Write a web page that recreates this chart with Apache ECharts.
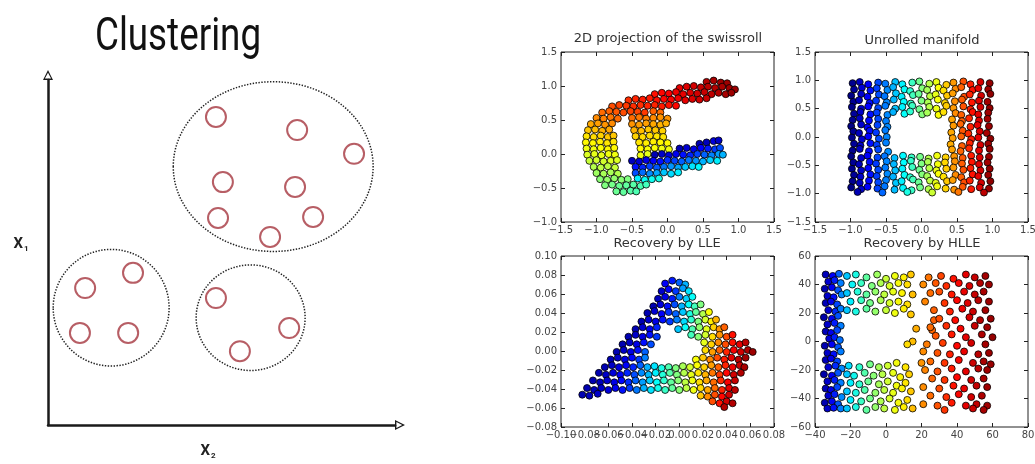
<!DOCTYPE html>
<html><head><meta charset="utf-8">
<script src="https://cdn.jsdelivr.net/npm/echarts@6.0.0/dist/echarts.min.js"></script>
<style>html,body{margin:0;padding:0;background:#fff}#c{width:1035px;height:464px}</style>
</head><body><div id="c"></div>
<script>
// ---------- Clustering diagram (arbitrary units 0..100) ----------
const clusterCircles = [[48.4,89.3],[71.8,85.5],[88.2,78.6],[50.4,70.4],[71.2,69.0],[49.0,60.0],[76.4,60.3],[64.0,54.5],
  [10.7,39.7],[24.5,44.1],[9.2,26.7],[23.1,26.7],[48.4,36.8],[69.5,28.1],[55.3,21.4]];
const clusterGroups = [[64.9,74.9,28.8,24.6],[18.2,34.0,16.7,16.9],[58.4,31.1,15.7,15.3]]; // cx, cy, rx, ry
const panelTitles = ['2D projection of the swissroll','Unrolled manifold','Recovery by LLE','Recovery by HLLE'];

// axis ranges [min, max, interval]
const swissXRange = [-1.5,1.5,0.5], swissYRange = [-1.0,1.5,0.5];
const unrolledXRange = [-1.5,1.5,0.5], unrolledYRange = [-1.5,1.5,0.5];
const lleXRange = [-0.10,0.08,0.02], lleYRange = [-0.08,0.10,0.02];
const hlleXRange = [-40,80,20], hlleYRange = [-60,60,20];

// ---------- 2D projection of the swissroll: [x, y, colour position 0..1] ----------
const swissrollPoints = [
[0.55,1.06,0.95],[0.65,1.08,0.96],[0.75,1.05,0.97],[0.84,1.04,0.97],
[0.17,0.97,0.9],[0.27,0.99,0.91],[0.37,1.0,0.92],[0.47,0.98,0.93],[0.57,0.99,0.94],[0.67,0.97,0.95],[0.77,0.99,0.96],[0.87,0.97,0.97],[0.95,0.95,0.97],
[-0.18,0.88,0.86],[-0.08,0.9,0.87],[0.02,0.89,0.88],[0.12,0.91,0.89],[0.22,0.88,0.9],[0.32,0.9,0.91],[0.42,0.89,0.92],[0.52,0.91,0.93],[0.62,0.88,0.94],[0.72,0.9,0.95],[0.82,0.88,0.96],[0.9,0.9,0.97],
[-0.55,0.79,0.83],[-0.45,0.81,0.84],[-0.35,0.8,0.85],[-0.25,0.82,0.85],[-0.15,0.79,0.86],[-0.05,0.81,0.87],[0.05,0.8,0.88],[0.15,0.82,0.89],[0.25,0.79,0.9],[0.35,0.81,0.91],[0.45,0.8,0.92],[0.55,0.82,0.93],
[-0.78,0.7,0.8],[-0.68,0.72,0.81],[-0.58,0.71,0.82],[-0.48,0.7,0.83],[-0.38,0.72,0.83],[-0.28,0.71,0.84],[-0.18,0.72,0.84],[-0.08,0.7,0.85],[0.02,0.72,0.86],[0.12,0.71,0.87],
[-0.92,0.61,0.77],[-0.82,0.63,0.78],[-0.72,0.62,0.79],[-0.62,0.61,0.8],[-0.52,0.63,0.81],[-0.42,0.62,0.81],[-0.32,0.61,0.82],[-0.2,0.63,0.78],[-0.1,0.61,0.77],
[-1.0,0.53,0.74],[-0.9,0.52,0.75],[-0.8,0.54,0.76],[-0.7,0.52,0.77],[-0.5,0.53,0.77],[-0.4,0.54,0.76],[-0.3,0.52,0.75],[-0.2,0.53,0.74],[-0.1,0.54,0.73],[0.0,0.52,0.73],
[-1.08,0.44,0.71],[-0.98,0.45,0.72],[-0.88,0.43,0.73],[-0.78,0.45,0.74],[-0.5,0.44,0.73],[-0.4,0.43,0.72],[-0.3,0.45,0.72],[-0.2,0.44,0.71],[-0.1,0.43,0.7],[-0.02,0.45,0.7],
[-1.12,0.35,0.68],[-1.02,0.36,0.69],[-0.92,0.34,0.7],[-0.82,0.36,0.71],[-0.47,0.35,0.7],[-0.37,0.34,0.69],[-0.27,0.36,0.68],[-0.17,0.35,0.68],[-0.07,0.34,0.67],
[-1.14,0.26,0.65],[-1.04,0.25,0.66],[-0.94,0.27,0.67],[-0.84,0.25,0.68],[-0.76,0.27,0.68],[-0.45,0.26,0.67],[-0.35,0.25,0.66],[-0.25,0.27,0.66],[-0.15,0.26,0.65],[-0.06,0.25,0.65],
[-1.15,0.17,0.63],[-1.05,0.16,0.63],[-0.95,0.18,0.64],[-0.85,0.16,0.65],[-0.76,0.18,0.65],[-0.4,0.17,0.65],[-0.3,0.16,0.64],[-0.2,0.18,0.64],[-0.1,0.17,0.63],[0.0,0.16,0.63],[0.55,0.17,0.06],[0.65,0.19,0.09],[0.45,0.15,0.05],[0.72,0.2,0.07],
[-1.14,0.08,0.61],[-1.04,0.07,0.61],[-0.94,0.09,0.62],[-0.84,0.07,0.63],[-0.75,0.09,0.63],[-0.38,0.08,0.63],[-0.28,0.07,0.62],[-0.18,0.09,0.62],[-0.08,0.08,0.61],[0.02,0.07,0.61],[0.17,0.08,0.05],[0.27,0.09,0.08],[0.37,0.07,0.1],[0.47,0.09,0.12],[0.57,0.08,0.15],[0.67,0.07,0.18],[0.74,0.09,0.2],
[-1.13,-0.01,0.59],[-1.03,0.0,0.6],[-0.93,-0.02,0.6],[-0.83,0.0,0.61],[-0.74,-0.01,0.61],[-0.38,-0.02,0.61],[-0.28,0.0,0.6],[-0.18,-0.01,0.05],[-0.08,0.0,0.07],[0.02,-0.02,0.09],[0.12,0.0,0.11],[0.22,-0.01,0.14],[0.32,-0.02,0.16],[0.42,0.0,0.19],[0.52,-0.01,0.22],[0.62,-0.02,0.25],[0.72,0.0,0.28],[0.78,-0.01,0.3],
[-1.1,-0.1,0.57],[-1.0,-0.09,0.58],[-0.9,-0.11,0.58],[-0.8,-0.1,0.59],[-0.71,-0.09,0.59],[-0.5,-0.1,0.06],[-0.4,-0.11,0.08],[-0.3,-0.09,0.1],[-0.2,-0.1,0.12],[-0.1,-0.11,0.14],[0.0,-0.09,0.17],[0.1,-0.1,0.19],[0.2,-0.11,0.22],[0.3,-0.09,0.24],[0.4,-0.1,0.27],[0.5,-0.11,0.3],[0.6,-0.09,0.33],[0.7,-0.1,0.36],
[-1.04,-0.19,0.55],[-0.94,-0.2,0.56],[-0.84,-0.18,0.56],[-0.74,-0.2,0.57],[-0.45,-0.19,0.14],[-0.35,-0.2,0.16],[-0.25,-0.18,0.19],[-0.15,-0.2,0.21],[-0.05,-0.19,0.24],[0.05,-0.18,0.27],[0.15,-0.2,0.29],[0.25,-0.19,0.32],[0.35,-0.18,0.35],[0.44,-0.19,0.37],
[-1.0,-0.28,0.53],[-0.9,-0.29,0.54],[-0.8,-0.27,0.54],[-0.7,-0.29,0.55],[-0.45,-0.28,0.2],[-0.35,-0.27,0.23],[-0.25,-0.29,0.26],[-0.15,-0.28,0.29],[-0.05,-0.27,0.32],[0.05,-0.29,0.34],[0.15,-0.27,0.36],
[-0.95,-0.37,0.51],[-0.85,-0.38,0.52],[-0.75,-0.36,0.52],[-0.65,-0.38,0.51],[-0.56,-0.37,0.5],[-0.42,-0.36,0.36],[-0.32,-0.38,0.38],[-0.22,-0.37,0.39],[-0.12,-0.36,0.4],
[-0.88,-0.46,0.5],[-0.78,-0.45,0.49],[-0.68,-0.47,0.48],[-0.58,-0.46,0.47],[-0.48,-0.45,0.46],[-0.38,-0.47,0.45],[-0.3,-0.45,0.44],
[-0.72,-0.55,0.48],[-0.62,-0.56,0.47],[-0.52,-0.54,0.46],[-0.44,-0.55,0.45]
];

// ---------- Unrolled manifold: [x, y] (colour follows x) ----------
const unrolledPoints = [
[-0.97,0.95],[-0.87,0.97],[-0.75,0.93],[-0.61,0.96],[-0.51,0.94],[-0.37,0.97],[-0.27,0.93],[-0.13,0.96],[-0.03,0.98],[0.11,0.94],[0.21,0.97],[0.35,0.92],[0.45,0.96],[0.59,0.98],[0.69,0.93],[0.83,0.97],[0.96,0.95],
[-0.95,0.84],[-0.84,0.87],[-0.72,0.82],[-0.63,0.86],[-0.48,0.83],[-0.4,0.88],[-0.24,0.84],[-0.16,0.81],[0.01,0.86],[0.08,0.83],[0.24,0.87],[0.31,0.82],[0.48,0.85],[0.56,0.88],[0.72,0.83],[0.8,0.86],[0.94,0.84],
[-0.99,0.73],[-0.85,0.76],[-0.76,0.71],[-0.6,0.75],[-0.52,0.72],[-0.36,0.77],[-0.28,0.71],[-0.12,0.74],[-0.04,0.76],[0.12,0.72],[0.2,0.75],[0.36,0.73],[0.44,0.77],[0.6,0.71],[0.68,0.75],[0.84,0.73],[0.97,0.76],
[-0.96,0.62],[-0.88,0.65],[-0.73,0.6],[-0.64,0.64],[-0.49,0.61],[-0.39,0.66],[-0.25,0.62],[-0.15,0.59],[0.0,0.64],[0.09,0.61],[0.23,0.66],[0.33,0.6],[0.47,0.63],[0.57,0.66],[0.71,0.61],[0.81,0.64],[0.93,0.62],
[-0.98,0.53],[-0.85,0.5],[-0.75,0.54],[-0.61,0.51],[-0.51,0.55],[-0.37,0.5],[-0.27,0.53],[-0.13,0.55],[-0.03,0.49],[0.11,0.53],[0.21,0.5],[0.35,0.55],[0.45,0.51],[0.59,0.54],[0.69,0.49],[0.83,0.53],[0.96,0.51],
[-0.95,0.41],[-0.86,0.44],[-0.72,0.4],[-0.63,0.43],[-0.48,0.39],[-0.4,0.44],[-0.24,0.41],[-0.16,0.45],[0.01,0.4],[0.08,0.43],[0.24,0.39],[0.31,0.44],[0.48,0.42],[0.56,0.39],[0.72,0.44],[0.8,0.4],[0.94,0.43],
[-0.97,0.3],[-0.87,0.33],[-0.74,0.29],[-0.61,0.32],[-0.5,0.28],[0.43,0.31],[0.57,0.28],[0.67,0.33],[0.81,0.29],[0.93,0.32],
[-0.99,0.19],[-0.85,0.22],[-0.76,0.17],[-0.62,0.21],[-0.48,0.18],[0.45,0.2],[0.55,0.23],[0.69,0.18],[0.79,0.21],[0.95,0.19],
[-0.96,0.1],[-0.88,0.07],[-0.73,0.11],[-0.64,0.08],[-0.51,0.12],[0.42,0.08],[0.58,0.11],[0.66,0.06],[0.82,0.1],[0.92,0.07],
[-0.98,-0.01],[-0.84,-0.04],[-0.75,0.01],[-0.6,-0.03],[-0.49,0.0],[0.44,-0.02],[0.56,0.01],[0.7,-0.04],[0.8,-0.01],[0.97,-0.03],
[-0.95,-0.12],[-0.86,-0.15],[-0.72,-0.11],[-0.63,-0.14],[-0.5,-0.1],[0.41,-0.13],[0.57,-0.16],[0.68,-0.11],[0.83,-0.14],[0.94,-0.12],
[-0.97,-0.24],[-0.87,-0.21],[-0.74,-0.25],[-0.61,-0.22],[-0.47,-0.26],[0.43,-0.22],[0.55,-0.25],[0.67,-0.2],[0.81,-0.24],[0.96,-0.21],
[-0.99,-0.34],[-0.85,-0.37],[-0.76,-0.33],[-0.62,-0.36],[-0.52,-0.34],[-0.38,-0.37],[-0.26,-0.33],[-0.14,-0.36],[-0.02,-0.35],[0.1,-0.38],[0.22,-0.33],[0.34,-0.36],[0.46,-0.34],[0.58,-0.37],[0.7,-0.33],[0.82,-0.36],[0.95,-0.35],
[-0.96,-0.45],[-0.88,-0.48],[-0.73,-0.44],[-0.64,-0.47],[-0.49,-0.43],[-0.39,-0.48],[-0.25,-0.45],[-0.15,-0.42],[0.0,-0.47],[0.09,-0.44],[0.23,-0.48],[0.33,-0.45],[0.47,-0.43],[0.57,-0.47],[0.71,-0.44],[0.81,-0.48],[0.93,-0.45],
[-0.98,-0.56],[-0.85,-0.59],[-0.75,-0.55],[-0.61,-0.58],[-0.51,-0.54],[-0.37,-0.59],[-0.27,-0.56],[-0.13,-0.53],[-0.03,-0.58],[0.11,-0.55],[0.21,-0.59],[0.35,-0.56],[0.45,-0.54],[0.59,-0.58],[0.69,-0.55],[0.83,-0.59],[0.96,-0.56],
[-0.95,-0.67],[-0.86,-0.7],[-0.72,-0.66],[-0.63,-0.69],[-0.48,-0.65],[-0.4,-0.7],[-0.24,-0.67],[-0.16,-0.71],[0.01,-0.66],[0.08,-0.69],[0.24,-0.65],[0.31,-0.7],[0.48,-0.67],[0.56,-0.71],[0.72,-0.66],[0.8,-0.69],[0.94,-0.67],
[-0.97,-0.78],[-0.87,-0.81],[-0.74,-0.77],[-0.61,-0.8],[-0.5,-0.76],[-0.36,-0.81],[-0.28,-0.78],[-0.12,-0.75],[-0.04,-0.8],[0.12,-0.77],[0.2,-0.81],[0.36,-0.78],[0.44,-0.76],[0.6,-0.8],[0.68,-0.77],[0.84,-0.81],[0.97,-0.78],
[-0.99,-0.89],[-0.85,-0.92],[-0.76,-0.88],[-0.62,-0.91],[-0.52,-0.87],[-0.38,-0.93],[-0.26,-0.9],[-0.14,-0.94],[-0.02,-0.89],[0.1,-0.92],[0.22,-0.87],[0.34,-0.91],[0.46,-0.93],[0.58,-0.88],[0.7,-0.92],[0.82,-0.89],[0.95,-0.91],
[-0.9,-0.97],[-0.55,-0.98],[-0.2,-0.97],[0.15,-0.98],[0.52,-0.97],[0.88,-0.98]
];

// ---------- Recovery by LLE: [x, y, colour position 0..1] ----------
const llePoints = [
[-0.012,0.071,0.12],[-0.006,0.074,0.15],[0.0,0.072,0.22],[0.005,0.07,0.3],
[-0.015,0.063,0.07],[-0.009,0.065,0.12],[-0.003,0.063,0.18],[0.003,0.066,0.28],[0.008,0.063,0.35],
[-0.018,0.055,0.06],[-0.012,0.057,0.1],[-0.006,0.055,0.15],[0.0,0.057,0.25],[0.006,0.055,0.33],[0.011,0.057,0.38],
[-0.022,0.047,0.05],[-0.016,0.049,0.09],[-0.01,0.047,0.14],[-0.004,0.049,0.2],[0.002,0.047,0.3],[0.008,0.049,0.38],[0.013,0.047,0.44],[0.018,0.049,0.5],
[-0.027,0.04,0.05],[-0.021,0.042,0.08],[-0.015,0.039,0.12],[-0.009,0.041,0.17],[-0.003,0.039,0.22],[0.003,0.041,0.32],[0.009,0.039,0.4],[0.014,0.041,0.47],[0.02,0.039,0.55],[0.025,0.041,0.62],
[-0.032,0.031,0.05],[-0.026,0.033,0.08],[-0.02,0.031,0.1],[-0.014,0.033,0.14],[-0.008,0.031,0.18],[-0.002,0.033,0.25],[0.004,0.031,0.34],[0.01,0.033,0.42],[0.016,0.031,0.5],[0.022,0.033,0.58],[0.027,0.031,0.64],[0.031,0.033,0.7],
[-0.037,0.023,0.05],[-0.031,0.025,0.08],[-0.025,0.023,0.11],[-0.019,0.025,0.16],[-0.001,0.023,0.32],[0.005,0.025,0.38],[0.011,0.023,0.45],[0.017,0.025,0.52],[0.023,0.023,0.6],[0.029,0.025,0.67],[0.034,0.023,0.73],[0.038,0.025,0.78],
[-0.043,0.015,0.05],[-0.037,0.017,0.07],[-0.031,0.015,0.1],[-0.025,0.017,0.14],[-0.019,0.015,0.18],[0.01,0.017,0.44],[0.016,0.015,0.51],[0.022,0.017,0.58],[0.028,0.015,0.66],[0.034,0.017,0.73],[0.04,0.015,0.8],[0.045,0.017,0.86],
[-0.048,0.007,0.05],[-0.042,0.009,0.07],[-0.036,0.007,0.1],[-0.03,0.009,0.14],[-0.024,0.007,0.2],[0.021,0.009,0.6],[0.027,0.007,0.67],[0.033,0.009,0.74],[0.039,0.007,0.8],[0.045,0.009,0.86],[0.051,0.007,0.9],[0.056,0.009,0.94],
[-0.053,-0.001,0.05],[-0.047,0.001,0.07],[-0.041,-0.001,0.1],[-0.035,0.001,0.14],[-0.029,-0.001,0.22],[0.022,0.001,0.66],[0.028,-0.001,0.72],[0.034,0.001,0.78],[0.04,-0.001,0.84],[0.046,0.001,0.88],[0.052,-0.001,0.92],[0.058,0.001,0.95],[0.062,-0.001,0.97],
[-0.058,-0.009,0.05],[-0.052,-0.007,0.07],[-0.046,-0.009,0.1],[-0.04,-0.007,0.13],[-0.034,-0.009,0.18],[-0.029,-0.007,0.25],[0.014,-0.009,0.62],[0.02,-0.007,0.68],[0.026,-0.009,0.74],[0.032,-0.007,0.8],[0.038,-0.009,0.85],[0.044,-0.007,0.9],[0.05,-0.009,0.94],[0.056,-0.007,0.97],
[-0.063,-0.017,0.05],[-0.057,-0.015,0.07],[-0.051,-0.017,0.09],[-0.045,-0.015,0.12],[-0.039,-0.017,0.16],[-0.033,-0.015,0.22],[-0.027,-0.017,0.3],[-0.021,-0.016,0.35],[-0.015,-0.018,0.4],[-0.009,-0.017,0.45],[-0.003,-0.018,0.5],[0.003,-0.016,0.54],[0.009,-0.017,0.58],[0.015,-0.015,0.62],[0.021,-0.017,0.67],[0.027,-0.015,0.72],[0.033,-0.017,0.78],[0.039,-0.015,0.84],[0.045,-0.017,0.89],[0.051,-0.015,0.93],[0.055,-0.017,0.96],
[-0.068,-0.023,0.05],[-0.062,-0.025,0.07],[-0.056,-0.023,0.09],[-0.05,-0.025,0.12],[-0.044,-0.023,0.16],[-0.038,-0.025,0.2],[-0.032,-0.023,0.26],[-0.026,-0.025,0.31],[-0.02,-0.023,0.36],[-0.014,-0.025,0.41],[-0.008,-0.023,0.46],[-0.002,-0.025,0.5],[0.004,-0.023,0.55],[0.01,-0.025,0.6],[0.016,-0.023,0.65],[0.022,-0.025,0.7],[0.028,-0.023,0.76],[0.034,-0.025,0.82],[0.04,-0.023,0.87],[0.046,-0.025,0.92],[0.052,-0.023,0.95],
[-0.073,-0.031,0.05],[-0.067,-0.033,0.06],[-0.061,-0.031,0.08],[-0.055,-0.033,0.1],[-0.049,-0.031,0.13],[-0.043,-0.033,0.17],[-0.037,-0.031,0.22],[-0.031,-0.033,0.28],[-0.025,-0.031,0.33],[-0.019,-0.033,0.38],[-0.013,-0.031,0.42],[-0.007,-0.033,0.47],[-0.001,-0.031,0.51],[0.005,-0.033,0.56],[0.011,-0.031,0.61],[0.017,-0.033,0.66],[0.023,-0.031,0.71],[0.029,-0.033,0.77],[0.035,-0.031,0.83],[0.041,-0.033,0.88],[0.047,-0.031,0.93],
[-0.078,-0.039,0.05],[-0.072,-0.041,0.06],[-0.066,-0.039,0.07],[-0.06,-0.041,0.09],[-0.054,-0.039,0.11],[-0.048,-0.041,0.14],[-0.042,-0.039,0.18],[-0.036,-0.041,0.24],[-0.03,-0.039,0.3],[-0.024,-0.041,0.35],[-0.018,-0.039,0.39],[-0.012,-0.041,0.43],[-0.006,-0.039,0.47],[0.0,-0.041,0.51],[0.006,-0.039,0.56],[0.012,-0.041,0.61],[0.018,-0.039,0.66],[0.024,-0.041,0.71],[0.03,-0.039,0.77],[0.036,-0.041,0.84],[0.042,-0.039,0.9],[0.047,-0.041,0.94],
[-0.082,-0.046,0.05],[-0.076,-0.047,0.06],[-0.069,-0.045,0.07],[0.018,-0.047,0.68],[0.024,-0.048,0.74],[0.03,-0.046,0.8],[0.036,-0.048,0.87],[0.042,-0.046,0.92],
[0.028,-0.053,0.8],[0.034,-0.055,0.86],[0.04,-0.053,0.92],[0.045,-0.055,0.95],[0.038,-0.059,0.95]
];

// ---------- Recovery by HLLE: [x, y] (colour follows x) ----------
const hllePoints = [
[-34,47],[-30,46],[-26.5,47.5],[-32.5,42],[-29,43],[-25.5,41],[-34.5,37],[-30.5,38],[-27,36],[-33,32],[-29.5,31],[-25,33],
[-34,27],[-31,28],[-27.5,26],[-32.5,22],[-28.5,21],[-25.5,23],[-35,17],[-30.5,16],[-27,18],[-33,12],[-29,13],[-25.5,11],
[-34,7],[-31,6],[-27.5,8],[-32,2],[-29,3],[-26,1],[-34.5,-3],[-30.5,-2],[-27,-4],[-33,-8],[-29.5,-9],[-25.5,-7],
[-34,-13],[-31,-12],[-27.5,-14],[-32.5,-18],[-28.5,-17],[-25,-19],[-35,-23],[-30.5,-24],[-27,-22],[-33,-28],[-29,-27],[-25.5,-29],
[-34,-33],[-31,-34],[-27.5,-32],[-32.5,-38],[-29,-37],[-25,-39],[-34.5,-43],[-30.5,-42],[-27,-44],[-33,-47],[-29.5,-46.5],[-25.5,-47],
[-22,46],[-17,47],[-11,45],[-5,47],[0,44],[5,46],[10,45],[14,47],
[-19,40],[-14,41],[-8,39],[-3,41],[2,39],[7,41],[12,40],
[-22,34],[-16,35],[-11,33],[-6,35],[-1,33],[4,35],[9,34],[15,33],
[-20,28],[-14,29],[-9,27],[-3,29],[2,27],[7,28],[12,26],
[-22,22],[-17,21],[-11,23],[-6,21],[0,22],[5,20],[10,23],[14,19],
[-21,-17],[-15,-18],[-9,-16],[-4,-18],[1,-17],[6,-15],[11,-18],
[-22,-23],[-18,-24],[-12,-22],[-7,-24],[-2,-23],[4,-22],[8,-25],[13,-23],
[-20,-29],[-15,-30],[-10,-28],[-4,-30],[1,-28],[6,-31],[11,-29],
[-22,-35],[-17,-36],[-12,-34],[-6,-36],[-1,-34],[4,-36],[9,-33],[14,-35],
[-20,-41],[-14,-42],[-9,-40],[-3,-42],[2,-40],[7,-43],[12,-41],
[-22,-47],[-17,-46],[-11,-48],[-6,-46],[-1,-47],[5,-48],[10,-46],[15,-47],
[15,0],[17,9],[12,-2],[21,-7],[20,-15],[27,15],[26,8],
[24,45],[31,46],[38,44],[45,47],[50,45],[56,46],
[21,40],[28,41],[34,39],[41,41],[47,39],[53,41],[58,40],
[25,34],[30,35],[37,33],[44,35],[50,33],[55,35],
[22,28],[33,27],[40,29],[46,27],[52,29],[58,28],
[27,22],[36,21],[43,23],[49,21],[56,22],
[30,16],[39,15],[47,17],[53,15],[59,16],
[25,10],[34,11],[42,9],[50,11],[57,10],
[28,4],[37,5],[45,3],[54,5],[60,3],
[23,-2],[32,-1],[40,-3],[48,-1],[56,-2],
[29,-8],[36,-9],[44,-7],[52,-9],[58,-8],
[25,-14],[33,-15],[41,-13],[49,-15],[55,-14],[59,-16],
[22,-20],[29,-21],[37,-19],[45,-21],[52,-19],[57,-20],
[26,-26],[33,-27],[40,-25],[48,-27],[55,-26],
[21,-32],[30,-33],[38,-31],[44,-33],[51,-31],[57,-32],
[25,-38],[34,-39],[41,-37],[48,-39],[54,-38],
[21,-44],[29,-45],[37,-43],[45,-45],[51,-44],[57,-45],
[33,-48],[49,-47],[55,-48]
];
// colour position along the HLLE x axis at x = -35, -30, ..., 60
const hlleColourStops = [0.04,0.12,0.26,0.36,0.42,0.48,0.53,0.57,0.61,0.64,0.69,0.73,0.77,0.8,0.84,0.87,0.9,0.93,0.96,0.98];

// ---------- styling helpers ----------
function jet(t){
  const c = v => Math.round(255*Math.max(0, Math.min(1, v)));
  return 'rgb(' + c(Math.min(4*t-1.5, -4*t+4.5)) + ',' + c(Math.min(4*t-0.5, -4*t+3.5)) + ',' + c(Math.min(4*t+0.5, -4*t+2.5)) + ')';
}
const jetRamp = [];
for (let i = 0; i <= 24; i++) jetRamp.push(jet(i/24));

function fmt(d){ return v => { if (Math.abs(v) < 1e-9) v = 0; return v.toFixed(d).replace('-', '\u2212'); }; }
const tickFont = {fontFamily:'DejaVu Sans', fontSize:10, color:'#444'};
function axis(gi, r, pos, labels, d){
  const isX = (pos === 'bottom' || pos === 'top');
  return {type:'value', gridIndex:gi, position:pos, min:r[0], max:r[1], interval:r[2],
    axisLine:{show:false, onZero:false}, splitLine:{show:false},
    axisTick:{show:true, inside:true, length:4, lineStyle:{color:'#222', width:1}},
    axisLabel:Object.assign({show:labels, formatter:fmt(d), margin:isX ? 3 : 4, hideOverlap:false,
      showMinLabel:true, showMaxLabel:true}, tickFont)};
}

const panels = [
  {grid:{left:561, top:52, width:213, height:170}, xr:swissXRange, yr:swissYRange, d:1, title:[668,32]},
  {grid:{left:815, top:52, width:213, height:170}, xr:unrolledXRange, yr:unrolledYRange, d:1, title:[922,34]},
  {grid:{left:561, top:256, width:213, height:171}, xr:lleXRange, yr:lleYRange, d:2, title:[667,237]},
  {grid:{left:815, top:256, width:213, height:171}, xr:hlleXRange, yr:hlleYRange, d:0, title:[922,237]}
];
const panelData = [swissrollPoints, unrolledPoints, llePoints, hllePoints];

const grids = [{left:48, top:80, width:347, height:345, outerBoundsMode:'none'}];
const xAxes = [], yAxes = [];
const arrowPath = 'path://M5,0 L10,10 L0,10 Z M5,2.8 L1.9,8.6 L8.1,8.6 Z';
const clusterAxisLine = {show:true, onZero:false, symbol:['none', arrowPath], symbolSize:[10,10], symbolOffset:[0,5], lineStyle:{color:'#1a1a1a', width:2.5}};
xAxes.push({type:'value', gridIndex:0, min:0, max:100, axisLine:clusterAxisLine, axisTick:{show:false}, axisLabel:{show:false}, splitLine:{show:false}});
yAxes.push({type:'value', gridIndex:0, min:0, max:100, axisLine:clusterAxisLine, axisTick:{show:false}, axisLabel:{show:false}, splitLine:{show:false}});

const series = [
  {type:'custom', xAxisIndex:0, yAxisIndex:0, silent:true, data:clusterGroups,
   renderItem:(params, api) => {
     const c = api.coord([api.value(0), api.value(1)]);
     const s = api.size([api.value(2), api.value(3)]);
     return {type:'ellipse', shape:{cx:c[0], cy:c[1], rx:s[0], ry:s[1]},
             style:{fill:'none', stroke:'#222', lineWidth:1.5, lineDash:[1.4,1.5]}};
   }},
  {type:'scatter', xAxisIndex:0, yAxisIndex:0, silent:true, data:clusterCircles, symbol:'circle', symbolSize:20,
   itemStyle:{color:'#ffffff', borderColor:'#a5363e', borderWidth:2}}
];

const subStyle = {a:{fontFamily:'Roboto', fontSize:15, color:'#222'}, b:{fontFamily:'Roboto', fontSize:8, color:'#222', padding:[9,0,0,1]}};
const titles = [
  {text:'{a|X}{b|1}', left:21, top:236, textAlign:'center', padding:0, textStyle:{rich:subStyle}},
  {text:'{a|X}{b|2}', left:208, top:443, textAlign:'center', padding:0, textStyle:{rich:subStyle}}
];

panels.forEach((p, i) => {
  const gi = i + 1;
  grids.push(Object.assign({show:true, borderColor:'#222', borderWidth:1, backgroundColor:'transparent', outerBoundsMode:'none'}, p.grid));
  xAxes.push(axis(gi, p.xr, 'bottom', true, p.d));
  xAxes.push(axis(gi, p.xr, 'top', false, p.d));
  yAxes.push(axis(gi, p.yr, 'left', true, p.d));
  yAxes.push(axis(gi, p.yr, 'right', false, p.d));
  series.push({type:'scatter', xAxisIndex:2*i+1, yAxisIndex:2*i+1, silent:true, data:panelData[i],
    symbol:'circle', symbolSize:7,
    itemStyle:{borderColor:'#000', borderWidth:0.8, opacity:1}});
  titles.push({text:panelTitles[i], left:p.title[0], top:p.title[1], textAlign:'center', padding:0,
    textStyle:{fontFamily:'DejaVu Sans', fontSize:13, fontWeight:'normal', color:'#333'}});
});

// The LLE x labels are so crowded that ECharts drops the one next to the minimum;
// a label-only companion axis on the same grid puts that tick label back.
xAxes.push({type:'value', gridIndex:3, position:'bottom', min:lleXRange[0], max:lleXRange[1], interval:lleXRange[2],
  axisLine:{show:false, onZero:false}, axisTick:{show:false}, splitLine:{show:false},
  axisLabel:Object.assign({margin:3, showMinLabel:true, showMaxLabel:true, hideOverlap:false,
    formatter: v => Math.abs(v - (lleXRange[0] + lleXRange[2])) < 1e-9 ? fmt(2)(v) : ''}, tickFont)});

const chart = echarts.init(document.getElementById('c'), null, {renderer:'canvas'});
chart.setOption({
  backgroundColor:'#ffffff',
  animation:false,
  title:titles,
  graphic:[{type:'text', x:178, y:38, scaleX:0.8, scaleY:1, silent:true,
    style:{text:'Clustering', fontFamily:'Roboto', fontSize:46, fontWeight:'normal', fill:'#111',
           align:'center', verticalAlign:'middle', textAlign:'center', textVerticalAlign:'middle'}}],
  grid:grids,
  xAxis:xAxes,
  yAxis:yAxes,
  visualMap:[
    {type:'continuous', show:false, seriesIndex:[2,4], dimension:2, min:0, max:1, inRange:{color:jetRamp}},
    {type:'continuous', show:false, seriesIndex:3, dimension:0, min:-1, max:1, inRange:{color:jetRamp}},
    {type:'continuous', show:false, seriesIndex:5, dimension:0, min:-35, max:60, inRange:{color:hlleColourStops.map(jet)}}
  ],
  series:series
});
</script></body></html>
